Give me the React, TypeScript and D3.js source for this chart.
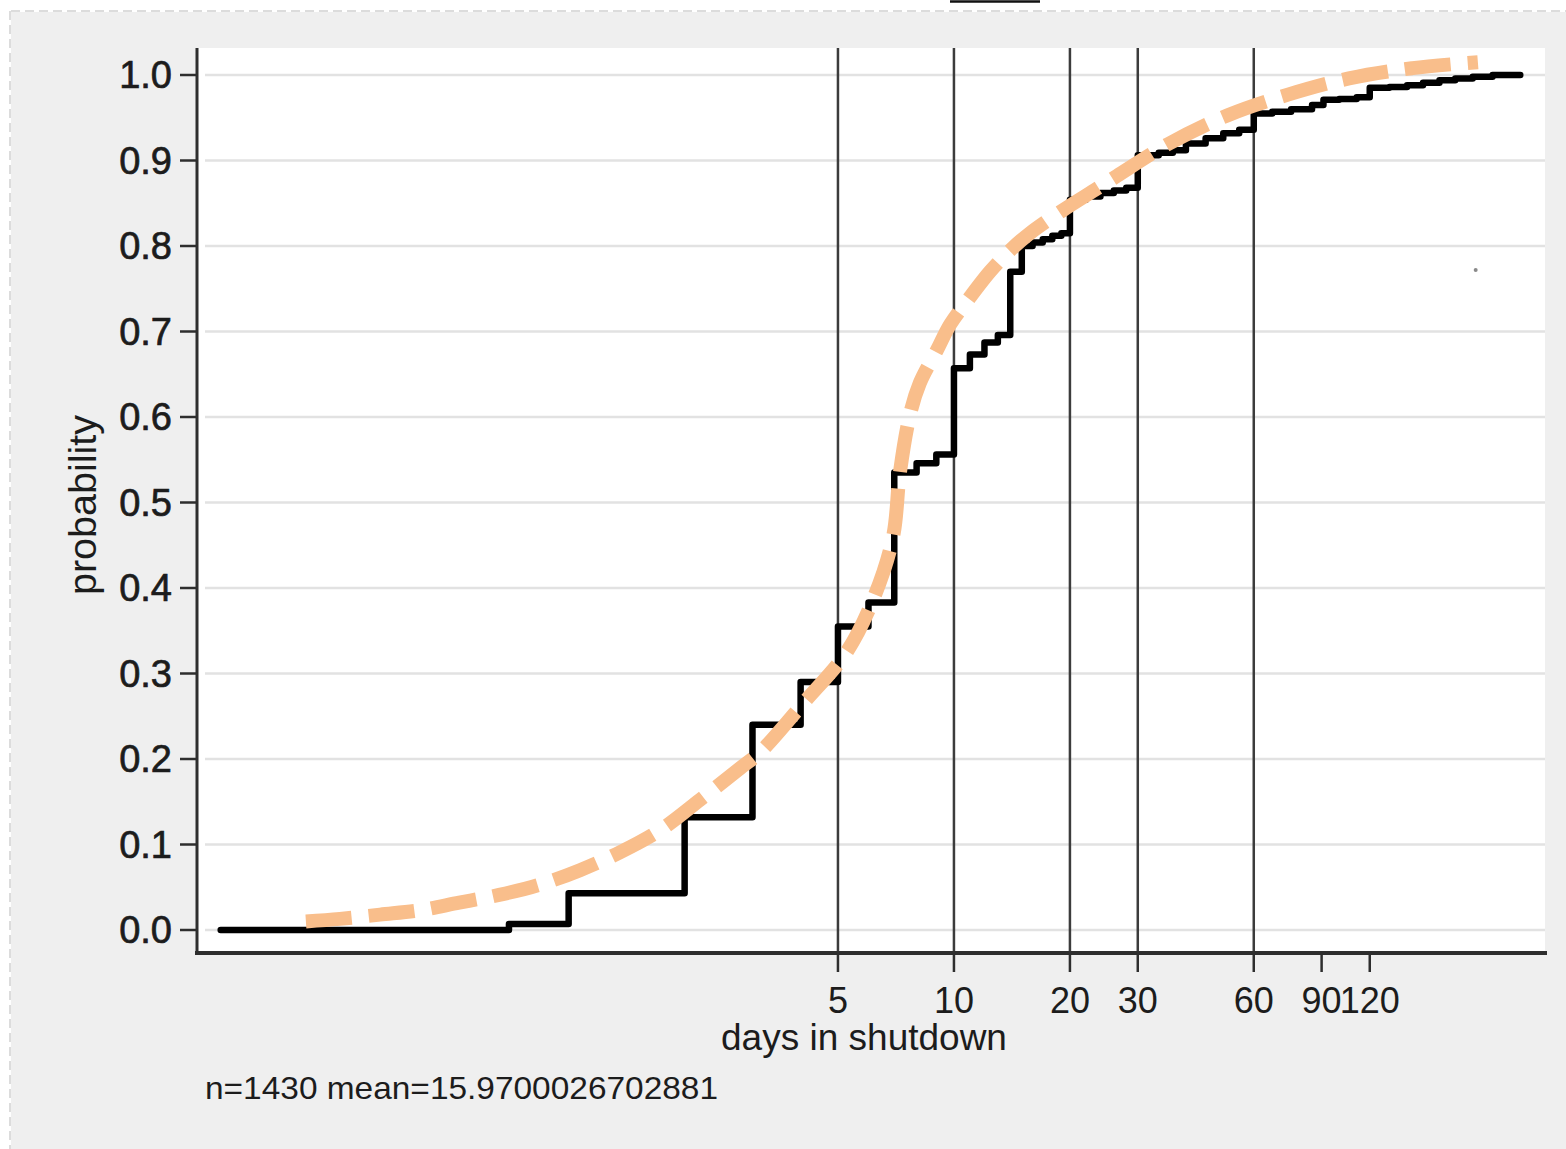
import { curveCatmullRom, curveStepAfter, line, scaleLinear, scaleLog } from "d3";

// empirical cumulative distribution (step function)
const stepDays = [
  0.125, 0.7, 1, 2, 3, 4, 5, 6, 7, 8, 9, 10, 11, 12, 13, 14, 15, 16, 17, 18, 19, 20, 22, 24, 26,
  28, 30, 34, 37, 40, 45, 50, 55, 60, 67, 75, 85, 91, 100, 111, 120, 135, 150, 165, 182, 200, 222,
  250, 295,
];
const stepProb = [
  0, 0.007, 0.043, 0.132, 0.24, 0.29, 0.355, 0.383, 0.535, 0.546, 0.556, 0.657, 0.673, 0.687,
  0.696, 0.77, 0.8, 0.804, 0.808, 0.812, 0.815, 0.854, 0.858, 0.862, 0.865, 0.868, 0.906, 0.909,
  0.912, 0.92, 0.926, 0.932, 0.936, 0.955, 0.957, 0.96, 0.965, 0.971, 0.972, 0.974, 0.985, 0.986,
  0.988, 0.991, 0.994, 0.996, 0.998, 1.0, 1.0,
];

// fitted curve (dashed)
const fitDays = [
  0.208, 0.255, 0.324, 0.41, 0.52, 0.66, 0.84, 1.07, 1.36, 1.73, 2.19, 2.78, 3.14, 4.06, 5.28,
  6.24, 6.95, 7.24, 7.69, 8.16, 9.03, 9.77, 11.0, 12.4, 14.0, 15.75, 19.2, 23.5, 26.5, 35.9, 51.4,
  73.6, 106, 155, 229,
];
const fitProb = [
  0.01, 0.013, 0.018, 0.023, 0.032, 0.041, 0.053, 0.07, 0.091, 0.117, 0.152, 0.189, 0.208, 0.265,
  0.326, 0.392, 0.46, 0.535, 0.603, 0.64, 0.678, 0.708, 0.74, 0.77, 0.795, 0.815, 0.842, 0.867,
  0.882, 0.919, 0.953, 0.977, 0.996, 1.008, 1.015,
];

const refLines = [5, 10, 20, 30, 60];
const xTicks = [5, 10, 20, 30, 60, 90, 120];
const yTicks = [0, 0.1, 0.2, 0.3, 0.4, 0.5, 0.6, 0.7, 0.8, 0.9, 1.0];
const strayDays = [226];
const strayProb = [0.772];

const noteText = "n=1430 mean=15.9700026702881";

export default function App() {
  const width = 1566;
  const height = 1149;
  const left = 197;
  const right = 1545;
  const top = 48;
  const bottom = 953;
  const font = "'Liberation Sans', Arial, sans-serif";

  const x = scaleLog().domain([0.1085, 342]).range([left, right]);
  const y = scaleLinear().domain([0, 1]).range([930, 75]);

  const stepPath = line<number>()
    .x((d) => x(d))
    .y((_, i) => y(stepProb[i]))
    .curve(curveStepAfter)(stepDays);

  const fitPath = line<number>()
    .x((d) => x(d))
    .y((_, i) => y(fitProb[i]))
    .curve(curveCatmullRom.alpha(0.5))(fitDays);

  return (
    <div style={{ position: "absolute", left: 0, top: 0 }}>
      <svg width={width} height={height} viewBox={`0 0 ${width} ${height}`}>
        <rect x={0} y={0} width={width} height={height} fill="#ffffff" />
        <rect x={11} y={12} width={width - 11} height={height - 12} fill="#efefef" />
        <line x1={11} x2={width} y1={11} y2={11} stroke="#dcdcdc" strokeWidth={2} strokeDasharray="9 5" />
        <line x1={10} x2={10} y1={11} y2={height} stroke="#dcdcdc" strokeWidth={2} strokeDasharray="9 5" />
        <line x1={950} x2={1040} y1={1.5} y2={1.5} stroke="#111" strokeWidth={2.5} />

        <rect x={left} y={top} width={right - left} height={bottom - top} fill="#ffffff" />

        {yTicks.map((t) => (
          <line
            key={`g${t}`}
            x1={left + 8}
            x2={right}
            y1={y(t)}
            y2={y(t)}
            stroke="#e2e2e2"
            strokeWidth={2.5}
          />
        ))}

        {refLines.map((d) => (
          <line key={`r${d}`} x1={x(d)} x2={x(d)} y1={top} y2={bottom} stroke="#3c3c3c" strokeWidth={2.5} />
        ))}

        {stepPath ? (
          <path
            d={stepPath}
            fill="none"
            stroke="#000000"
            strokeWidth={6.5}
            strokeLinecap="round"
            strokeLinejoin="round"
          />
        ) : null}

        {fitPath ? (
          <path
            d={fitPath}
            fill="none"
            stroke="#f9be8b"
            strokeWidth={14}
            strokeDasharray="46 17"
          />
        ) : null}

        {strayDays.map((d, i) => (
          <circle key={`s${d}`} cx={x(d)} cy={y(strayProb[i])} r={2} fill="#8a8a8a" />
        ))}

        {/* axes */}
        <line x1={left} x2={left} y1={top} y2={bottom + 2} stroke="#2e2e2e" strokeWidth={3} />
        <line x1={left - 2} x2={right + 2} y1={bottom} y2={bottom} stroke="#2e2e2e" strokeWidth={4} />

        {yTicks.map((t) => (
          <g key={`y${t}`}>
            <line x1={180} x2={left} y1={y(t)} y2={y(t)} stroke="#2e2e2e" strokeWidth={2.5} />
            <text
              x={172}
              y={y(t) + 13}
              textAnchor="end"
              fontFamily={font}
              fontSize={38}
              fill="#1c1c1c"
              stroke="#1c1c1c"
              strokeWidth={0.7}
            >
              {t.toFixed(1)}
            </text>
          </g>
        ))}

        {xTicks.map((d) => (
          <g key={`x${d}`}>
            <line x1={x(d)} x2={x(d)} y1={bottom} y2={972} stroke="#2e2e2e" strokeWidth={2.5} />
            <text x={x(d)} y={1013} textAnchor="middle" fontFamily={font} fontSize={36} fill="#1c1c1c">
              {d}
            </text>
          </g>
        ))}

        <text x={864} y={1050} textAnchor="middle" fontFamily={font} fontSize={37} fill="#1c1c1c">
          days in shutdown
        </text>

        <text
          transform="translate(96,505) rotate(-90)"
          textAnchor="middle"
          fontFamily={font}
          fontSize={38}
          fill="#1c1c1c"
          textLength={180}
          lengthAdjust="spacingAndGlyphs"
        >
          probability
        </text>

        <text
          x={205}
          y={1099}
          fontFamily={font}
          fontSize={32}
          fill="#1c1c1c"
          textLength={513}
          lengthAdjust="spacingAndGlyphs"
        >
          {noteText}
        </text>
      </svg>
    </div>
  );
}
